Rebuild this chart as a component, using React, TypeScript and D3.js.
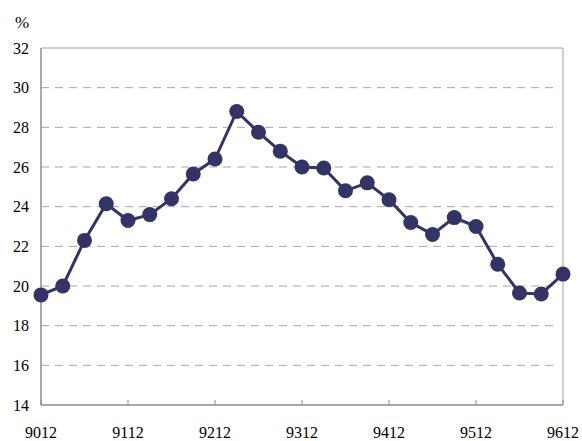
import React from "react";
import * as d3 from "d3";

const values: number[] = [
  19.55, 20.0, 22.3, 24.15, 23.3, 23.6, 24.4, 25.65, 26.4, 28.8, 27.75, 26.8, 26.0,
  25.95, 24.8, 25.2, 24.35, 23.2, 22.6, 23.45, 23.0, 21.1, 19.65, 19.6, 20.6,
];
const xTickLabels: string[] = ["9012", "9112", "9212", "9312", "9412", "9512", "9612"];
const yTicks: number[] = [14, 16, 18, 20, 22, 24, 26, 28, 30, 32];

export default function App() {
  const W = 582;
  const H = 441;
  const left = 41;
  const right = 563;
  const top = 48;
  const bottom = 405;
  const x = d3.scaleLinear().domain([0, values.length - 1]).range([left, right]);
  const y = d3.scaleLinear().domain([14, 32]).range([bottom, top]);
  const line = d3
    .line<number>()
    .x((_, i) => x(i))
    .y((d) => y(d));
  const textStyle: React.CSSProperties = {
    fontFamily: "Liberation Serif, serif",
    fontSize: "16px",
  };
  const color = "#333366";
  return (
    <svg
      width={W}
      height={H}
      style={{ position: "absolute", left: 0, top: 0, background: "#fff" }}
    >
      {yTicks.slice(1, -1).map((t) => (
        <line
          key={"g" + t}
          x1={left}
          x2={right - 4}
          y1={y(t)}
          y2={y(t)}
          stroke="#a6a6a6"
          strokeWidth={1}
          strokeDasharray="8,6"
        />
      ))}
      <line x1={left} x2={right} y1={top} y2={top} stroke="#a0a0a0" strokeWidth={1} />
      <line x1={right} x2={right} y1={top} y2={bottom} stroke="#a0a0a0" strokeWidth={1} />
      <line x1={left} x2={left} y1={top} y2={bottom} stroke="#8c8c8c" strokeWidth={1.5} />
      <line x1={left} x2={right} y1={bottom} y2={bottom} stroke="#8c8c8c" strokeWidth={1.5} />
      {xTickLabels.map((lab, i) => {
        const xi = x(i * 4);
        return (
          <g key={lab}>
            <line x1={xi} x2={xi} y1={bottom} y2={bottom - 5} stroke="#8c8c8c" strokeWidth={1} />
            <text x={xi} y={438} textAnchor="middle" style={textStyle} fill="#000">
              {lab}
            </text>
          </g>
        );
      })}
      {yTicks.map((t) => (
        <text key={"y" + t} x={29} y={y(t) + 5.5} textAnchor="end" style={textStyle} fill="#000">
          {t}
        </text>
      ))}
      <text x={15} y={28} style={{ ...textStyle, fontSize: "17px" }} fill="#000">
        %
      </text>
      <path d={line(values) || ""} fill="none" stroke={color} strokeWidth={3} />
      {values.map((v, i) => (
        <circle key={i} cx={x(i)} cy={y(v)} r={7.5} fill={color} />
      ))}
    </svg>
  );
}
